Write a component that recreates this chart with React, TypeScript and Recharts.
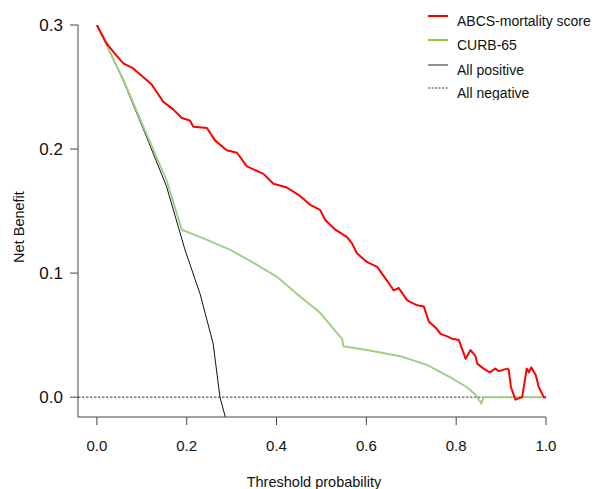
import React from 'react';
import { LineChart, Line, XAxis, YAxis, ReferenceLine } from 'recharts';

const FONT = '"Liberation Sans", Arial, Helvetica, sans-serif';

// threshold probabilities (x) and net benefit (y)
const abcsT = [
  0, 0.022, 0.04, 0.059, 0.081, 0.103, 0.122, 0.137, 0.148, 0.17, 0.189, 0.207, 0.215,
  0.245, 0.263, 0.289, 0.312, 0.334, 0.371, 0.393, 0.423, 0.453, 0.475, 0.497, 0.508,
  0.531, 0.557, 0.568, 0.579, 0.601, 0.624, 0.646, 0.661, 0.672, 0.691, 0.713, 0.728,
  0.739, 0.757, 0.765, 0.78, 0.791, 0.806, 0.821, 0.832, 0.843, 0.847, 0.861, 0.875,
  0.887, 0.895, 0.914, 0.917, 0.922, 0.932, 0.947, 0.957, 0.962, 0.967, 0.977, 0.984,
  0.995, 1,
];
const abcsV = [
  0.3, 0.285, 0.277, 0.269, 0.265, 0.258, 0.252, 0.244, 0.238, 0.232, 0.225, 0.223, 0.218,
  0.217, 0.207, 0.199, 0.197, 0.186, 0.18, 0.172, 0.169, 0.162, 0.155, 0.151, 0.143,
  0.135, 0.129, 0.124, 0.116, 0.109, 0.105, 0.094, 0.086, 0.088, 0.078, 0.074, 0.073,
  0.061, 0.055, 0.051, 0.049, 0.047, 0.046, 0.031, 0.038, 0.033, 0.027, 0.023, 0.02,
  0.023, 0.021, 0.023, 0.022, 0.008, -0.002, 0, 0.023, 0.02, 0.024, 0.018, 0.008,
  0, 0,
];

const curbT = [
  0, 0.059, 0.107, 0.155, 0.189, 0.244, 0.296, 0.35, 0.401, 0.453, 0.497, 0.527,
  0.546, 0.549, 0.601, 0.676, 0.735, 0.787, 0.824, 0.843, 0.856, 0.861, 1,
];
const curbV = [
  0.3, 0.256, 0.215, 0.175, 0.135, 0.127, 0.119, 0.108, 0.097, 0.081, 0.068, 0.055,
  0.047, 0.041, 0.038, 0.033, 0.026, 0.016, 0.008, 0.002, -0.005, 0, 0,
];

const allPosT = [0, 0.059, 0.107, 0.155, 0.196, 0.23, 0.259, 0.274, 0.286];
const allPosV = [0.3, 0.255, 0.213, 0.17, 0.119, 0.083, 0.043, 0, -0.016];

const xTicks = [0, 0.2, 0.4, 0.6, 0.8, 1];
const yTicks = [0, 0.1, 0.2, 0.3];

const legendItems = [
  { name: 'ABCS-mortality score', color: '#ff0000', width: 2, dash: undefined },
  { name: 'CURB-65', color: '#7fcf45', width: 2, dash: undefined },
  { name: 'All positive', color: '#222', width: 1, dash: undefined },
  { name: 'All negative', color: '#333', width: 1, dash: '2 1.5' },
];

const toRows = (ts: number[], vs: number[]) => ts.map((t, i) => ({ t, v: vs[i] }));

const abcsData = toRows(abcsT, abcsV);
const curbData = toRows(curbT, curbV);
const allPosData = toRows(allPosT, allPosV);

function XTitle(props: any) {
  const vb = props.viewBox;
  return (
    <text x={vb.x + vb.width / 2 + 2} y={vb.y + vb.height - 2} textAnchor="middle"
      fontSize={14.5} fontFamily={FONT} fill="#111">
      Threshold probability
    </text>
  );
}

function YTitle(props: any) {
  const vb = props.viewBox;
  const cx = 19;
  const cy = vb.y + vb.height / 2 + 6;
  return (
    <text x={cx} y={cy} transform={`rotate(-90 ${cx} ${cy})`} textAnchor="middle"
      dominantBaseline="central" fontSize={14.5} fontFamily={FONT} fill="#111">
      Net Benefit
    </text>
  );
}

function LegendBox() {
  return (
    <svg width={175} height={100} style={{ position: 'absolute', left: 424, top: 0 }}>
      {legendItems.map((it, i) => {
        const y = [16, 40, 65, 88][i];
        return (
          <g key={it.name}>
            <line x1={4} x2={24} y1={y} y2={y} stroke={it.color} strokeWidth={it.width}
              strokeDasharray={it.dash} />
            <text x={33} y={y + 4.5} dominantBaseline="central" fontSize={14}
              fontFamily={FONT} fill="#111">
              {it.name}
            </text>
          </g>
        );
      })}
    </svg>
  );
}

export default function App() {
  const tickStyleX = { fill: '#111', fontSize: 15, fontFamily: FONT };
  const tickStyleY = { fill: '#111', fontSize: 17, fontFamily: FONT };
  return (
    <div style={{ position: 'relative', width: 599, height: 489, background: '#fff' }}>
      <style>{'body{margin:0}'}</style>
      <LineChart width={599} height={489} margin={{ top: 25, right: 53, bottom: 0, left: 0 }}>
        <XAxis
          type="number"
          dataKey="t"
          domain={[-0.042, 1]}
          ticks={xTicks}
          allowDataOverflow
          tickFormatter={(v: number) => v.toFixed(1)}
          tick={tickStyleX}
          tickSize={8}
          tickMargin={15}
          height={72}
          axisLine={{ stroke: '#444' }}
          tickLine={{ stroke: '#444' }}
          label={<XTitle />}
        />
        <YAxis
          type="number"
          domain={[-0.016, 0.3]}
          ticks={yTicks}
          allowDataOverflow
          tickFormatter={(v: number) => v.toFixed(1)}
          tick={tickStyleY}
          tickSize={8}
          tickMargin={7}
          width={78}
          axisLine={{ stroke: '#444' }}
          tickLine={{ stroke: '#444' }}
          label={<YTitle />}
        />
        <ReferenceLine y={0} stroke="#333" strokeDasharray="2.5 1.5" />
        <Line data={allPosData} dataKey="v" type="linear" stroke="#111" strokeWidth={1}
          dot={false} isAnimationActive={false} />
        <Line data={curbData} dataKey="v" type="linear" stroke="#a2cf88" strokeWidth={2}
          dot={false} isAnimationActive={false} />
        <Line data={abcsData} dataKey="v" type="linear" stroke="#ff0000" strokeWidth={2}
          strokeLinejoin="round" dot={false} isAnimationActive={false} />
      </LineChart>
      <LegendBox />
    </div>
  );
}
